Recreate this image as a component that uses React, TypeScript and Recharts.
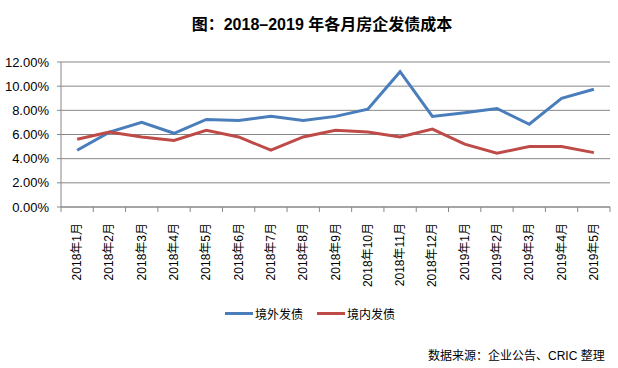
import { LineChart, Line, XAxis, YAxis, CartesianGrid } from "recharts";

const months = [
  "2018年1月", "2018年2月", "2018年3月", "2018年4月", "2018年5月", "2018年6月",
  "2018年7月", "2018年8月", "2018年9月", "2018年10月", "2018年11月", "2018年12月",
  "2019年1月", "2019年2月", "2019年3月", "2019年4月", "2019年5月",
];
const overseas = [4.7, 6.2, 7.0, 6.1, 7.25, 7.15, 7.5, 7.15, 7.5, 8.1, 11.2, 7.5, 7.8, 8.15, 6.85, 9.0, 9.75];
const domestic = [5.6, 6.2, 5.8, 5.5, 6.35, 5.8, 4.7, 5.8, 6.35, 6.2, 5.8, 6.45, 5.2, 4.45, 5.0, 5.0, 4.5];
const yTicks = [0, 2, 4, 6, 8, 10, 12];

const data = months.map((m, i) => ({ month: m, overseas: overseas[i], domestic: domestic[i] }));

const FONT = '"Liberation Sans", Arial, "Noto Sans CJK SC", sans-serif';
const BLUE = "#4a7ebb";
const RED = "#be4b48";
const GRID = "#878787";
const PLOT_LEFT = 61;
const PLOT_RIGHT = 610;
const BAND = (PLOT_RIGHT - PLOT_LEFT) / months.length;

const MonthTick = (props: any) => {
  const { x, y, payload, index } = props;
  const last = index === months.length - 1;
  return (
    <g>
      <line x1={x - BAND / 2} y1={y - 8} x2={x - BAND / 2} y2={y - 3} stroke={GRID} />
      {last && <line x1={x + BAND / 2} y1={y - 8} x2={x + BAND / 2} y2={y - 3} stroke={GRID} />}
      <text
        x={x}
        y={y + 8}
        transform={`rotate(-90, ${x}, ${y + 8})`}
        textAnchor="end"
        dominantBaseline="central"
        fontSize={12}
        fontFamily={FONT}
        fill="#000"
      >
        {payload.value}
      </text>
    </g>
  );
};

const LegendItem = ({ color, label }: { color: string; label: string }) => (
  <div style={{ display: "flex", alignItems: "center", marginRight: 14 }}>
    <div style={{ width: 28, height: 3, background: color, marginRight: 2 }} />
    <span>{label}</span>
  </div>
);

export default function App() {
  return (
    <div style={{ position: "absolute", left: 0, top: 0, width: 618, height: 368, background: "#fff", fontFamily: FONT }}>
      <div style={{ position: "absolute", top: 11, left: 0, width: 644, textAlign: "center", fontSize: 16, fontWeight: "bold", color: "#000" }}>
        图：2018–2019 年各月房企发债成本
      </div>
      <LineChart width={618} height={368} data={data} margin={{ top: 62, right: 8, left: 0, bottom: 71 }}>
        <CartesianGrid horizontal vertical={false} stroke={GRID} strokeWidth={1} />
        <XAxis
          dataKey="month"
          interval={0}
          height={90}
          stroke={GRID}
          tickLine={false}
          padding={{ left: BAND / 2, right: BAND / 2 }}
          tick={<MonthTick />}
        />
        <YAxis
          width={PLOT_LEFT}
          domain={[0, 12]}
          ticks={yTicks}
          stroke={GRID}
          tickSize={4}
          tickMargin={8}
          tickFormatter={(v: number) => v.toFixed(2) + "%"}
          tick={{ fill: "#000", fontSize: 13, fontFamily: FONT }}
        />
        <Line dataKey="overseas" stroke={BLUE} strokeWidth={3} dot={false} isAnimationActive={false} />
        <Line dataKey="domestic" stroke={RED} strokeWidth={3} dot={false} isAnimationActive={false} />
      </LineChart>
      <div style={{ position: "absolute", top: 305, left: 225, display: "flex", fontSize: 12, color: "#000" }}>
        <LegendItem color={BLUE} label="境外发债" />
        <LegendItem color={RED} label="境内发债" />
      </div>
      <div style={{ position: "absolute", top: 346, left: 428, fontSize: 12, color: "#000" }}>
        数据来源：企业公告、CRIC 整理
      </div>
    </div>
  );
}
